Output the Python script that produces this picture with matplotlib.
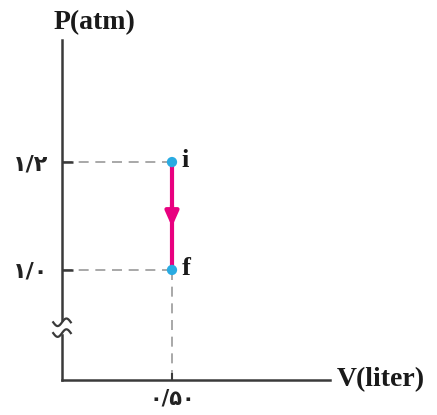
import matplotlib.pyplot as plt
from matplotlib.patches import Rectangle
import numpy as np

# process data: constant volume, pressure drops from i to f
point_names = ["i", "f"]
volume = [0.50, 0.50]
pressure = [1.2, 1.0]
p_ticks = [1.0, 1.2]
p_tick_labels = ["۱/۰", "۱/۲"]
v_ticks = [0.50]
v_tick_labels = ["۰/۵۰"]

axis_col = "#3a3a3a"
dash_col = "#9a9a9a"
line_col = "#e8007f"
dot_col = "#29abe2"
serif = ["Liberation Serif", "DejaVu Serif"]

fig = plt.figure(figsize=(4.37, 4.15), dpi=100)
ax = fig.add_axes([0.1419, 0.0843, 0.613, 0.819])
ax.set_xlim(0, 1.218)
ax.set_ylim(0.796, 1.426)

for s in ["top", "right"]:
    ax.spines[s].set_visible(False)
for s in ["left", "bottom"]:
    ax.spines[s].set_color(axis_col)
    ax.spines[s].set_linewidth(1.8)

ax.set_yticks(p_ticks)
ax.set_yticklabels(p_tick_labels, fontsize=16, fontweight="bold", color="#222222",
                   family=["DejaVu Sans"])
ax.set_xticks(v_ticks)
ax.set_xticklabels(v_tick_labels, fontsize=15, fontweight="bold", color="#222222",
                   family=["DejaVu Sans"])
ax.tick_params(axis="y", direction="in", length=8, width=1.8, color=axis_col, pad=10)
ax.tick_params(axis="x", direction="in", length=5, width=1.5, color=axis_col, pad=6)

# dashed guides
for v, p in zip(volume, pressure):
    ax.plot([0, v], [p, p], ls=(0, (6, 4)), color=dash_col, lw=1.2, zorder=1)
ax.plot([volume[1], volume[1]], [ax.get_ylim()[0], pressure[1]], ls=(0, (6, 4)),
        color=dash_col, lw=1.2, zorder=1)

# process line with arrow
ax.plot(volume, pressure, color=line_col, lw=3, solid_capstyle="butt", zorder=2)
mid = (pressure[0] + pressure[1]) / 2 + 0.01
ax.annotate("", xy=(volume[0], mid - 0.03), xytext=(volume[0], mid + 0.01),
            arrowprops=dict(arrowstyle="-|>,head_length=0.9,head_width=0.4",
                            color=line_col, lw=3, shrinkA=0, shrinkB=0), zorder=3)
ax.scatter(volume, pressure, s=55, color=dot_col, zorder=4, edgecolors="none")
for name, v, p in zip(point_names, volume, pressure):
    ax.text(v + 0.045, p + 0.003, name, fontsize=19, fontweight="bold", family=serif,
            va="center", ha="left", color="#1a1a1a")

# axis break
yb1, yb2 = 0.883, 0.903
ax.add_patch(Rectangle((-0.02, yb1), 0.04, yb2 - yb1, color="white", zorder=5,
                       clip_on=False, transform=ax.transData))
t = np.linspace(-1, 1, 40)
for yb in [yb1, yb2]:
    ax.plot(t * 0.04, yb + 0.007 * np.sin(t * np.pi), color=axis_col, lw=1.6,
            zorder=6, clip_on=False)

# axis titles
ax.text(-0.03, 1.015, "P(atm)", transform=ax.transAxes, fontsize=20, fontweight="bold",
        family=serif, ha="left", va="bottom", color="#1a1a1a")
ax.text(1.025, 0.0, "V(liter)", transform=ax.transAxes, fontsize=20, fontweight="bold",
        family=serif, ha="left", va="center", color="#1a1a1a")

fig.savefig("out.png", dpi=100)
